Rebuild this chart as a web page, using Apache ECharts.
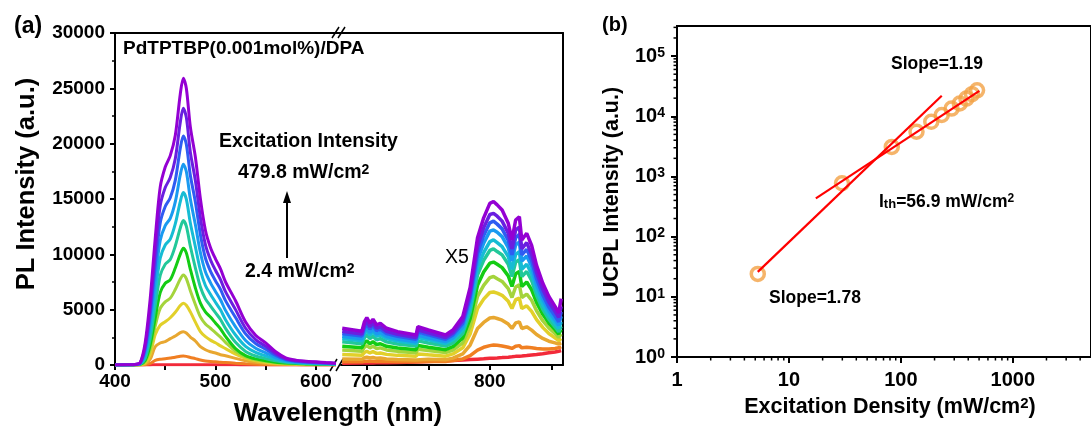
<!DOCTYPE html>
<html><head><meta charset="utf-8">
<script src="https://cdn.jsdelivr.net/npm/echarts@6/dist/echarts.min.js"></script>
<style>html,body{margin:0;padding:0;background:#fff}#c{width:1091px;height:434px}</style>
</head><body><div id="c"></div>
<script>
// ---------- Panel (a): visible region (400-620 nm) ----------
const blueWl = [400,415,420,425,430,435,440,445,450,455,460,465,468,471,475,480,485,490,495,500,505,510,520,530,540,550,560,570,580,590,600,610,620];
const blue0  = [0,0,0,0,5,10,15,20,22,23,24,24,24,24,23,22,20,18,17,16,15,14,12,10,9,8,7,6,5,5,5,5,5];
const blue1  = [0,0,0,2,25,140,420,520,560,630,700,785,810,780,680,580,450,370,320,290,250,225,160,105,65,40,25,18,12,10,8,7,5];
const blue2  = [0,0,0,9,90,510,1650,1990,2110,2380,2620,2920,3010,2890,2530,2170,1660,1380,1200,1080,930,840,600,390,240,150,90,60,45,30,30,24,18];
const blue3  = [0,0,0,21,185,950,2730,3590,3910,4270,4770,5370,5580,5400,4800,3880,3020,2560,2250,2010,1730,1480,980,610,385,247,154,106,78,55,50,40,31];
const blue4  = [0,0,0,37,295,1385,3500,5110,5700,6040,6820,7770,8140,7810,6710,5470,4350,3710,3320,2930,2520,2050,1240,730,470,316,205,143,103,78,65,52,42];
const blue5  = [0,0,11,53,400,1790,4220,6540,7385,7700,8760,10020,10550,10130,8650,6960,5590,4800,4330,3800,3270,2580,1480,845,550,380,253,180,127,100,79,63,53];
const blue6  = [0,3,16,73,598,2375,5324,8091,9109,9527,10753,12384,13050,12541,10727,8783,7047,5977,5351,4724,4111,3315,2049,1227,814,577,371,243,170,134,107,85,69];
const blue7  = [0,6,22,97,835,3023,6481,9660,10844,11373,12744,14770,15580,14988,12838,10688,8569,7182,6388,5671,4986,4098,2711,1683,1134,816,511,315,218,173,139,109,87];
const blue8  = [0,11,29,123,1114,3739,7696,11253,12596,13250,14738,17188,18150,17478,14992,12687,10164,8422,7442,6643,5899,4937,3449,2214,1510,1100,675,396,272,216,174,136,107];
const blue9  = [0,17,37,153,1432,4513,8942,12834,14324,15111,16684,19582,20700,19955,17140,14738,11799,9667,8487,7618,6831,5817,4285,2815,1938,1424,861,484,331,263,213,166,128];
const blue10 = [0,21,44,179,1696,5197,10115,14384,16031,16936,18630,21936,23200,22376,19233,16669,13340,10869,9512,8561,7714,6624,5002,3318,2292,1691,1016,561,383,304,248,193,146];
const blue11 = [0,26,52,207,1996,5962,11405,16070,17885,18922,20736,24494,25920,25013,21514,18792,15034,12182,10627,9590,8683,7517,5806,3888,2696,1996,1192,648,441,350,285,220,168];

// ---------- Panel (a): NIR region (x5 already applied) ----------
const nirWl = [680,696,698,700,702.5,705,708,711,716,725,740,741.5,750,764,770,778,784,790,795,800,803,806,810,815,818,821,824,826,830,834,838,843,848,853,856,858];
const nir0  = [150,170,175,180,185,190,195,200,210,230,280,290,320,380,410,450,490,530,560,600,620,640,670,710,740,780,800,810,850,900,950,1020,1100,1180,1240,1300];
const nir1  = [300,290,330,350,330,345,320,330,310,300,290,330,320,320,400,550,850,1350,1600,1750,1800,1780,1720,1600,1500,1700,1750,1550,1600,1550,1500,1450,1450,1500,1550,1650];
const nir2  = [550,510,650,710,630,690,600,630,550,500,460,570,530,480,620,1000,1800,3300,3850,4250,4300,4200,4050,3700,3300,3800,3900,3300,3450,3150,2750,2400,2150,2000,1900,2000];
const nir3  = [950,880,1130,1240,1090,1200,1050,1090,960,870,790,1000,920,800,1000,1550,2800,5100,5950,6550,6600,6500,6300,5750,5100,5900,6050,5100,5350,4850,4100,3400,2850,2450,2200,2400];
const nir4  = [1350,1250,1600,1750,1550,1690,1480,1550,1360,1230,1110,1420,1300,1120,1350,2000,3500,6200,7200,7900,8000,7800,7550,6900,6100,7050,7250,6100,6400,5850,4900,4000,3350,2850,2500,2800];
const nir5  = [1700,1560,1990,2180,1920,2110,1850,1920,1690,1540,1380,1760,1610,1380,1650,2450,4200,7200,8400,9200,9300,9100,8800,8050,7100,8250,8450,7100,7500,6800,5650,4600,3800,3200,2800,3200];
const nir6  = [2100,1920,2460,2700,2380,2600,2280,2380,2090,1900,1710,2180,1990,1710,2000,2850,4800,8150,9450,10350,10500,10250,9950,9100,8000,9300,9500,8000,8450,7650,6300,5050,4150,3450,3000,3500];
const nir7  = [2400,2200,2810,3080,2710,2970,2610,2710,2390,2170,1950,2490,2280,1950,2280,3180,5200,8800,10150,11150,11300,11050,10700,9800,8650,10000,10250,8650,9100,8250,6750,5450,4500,3750,3300,3900];
const nir8  = [2600,2380,3040,3340,2940,3220,2820,2940,2590,2350,2110,2700,2460,2110,2460,3450,5700,9500,11000,12100,12200,12000,11600,10600,9400,10850,11100,9400,9850,8900,7300,5950,4900,4100,3600,4400];
const nir9  = [2850,2620,3350,3680,3240,3550,3110,3240,2850,2590,2330,2980,2720,2330,2720,3760,6100,10100,11700,12850,13000,12730,12300,11250,9950,11500,11800,9950,10450,9450,7800,6350,5250,4450,3900,4800];
const nir10 = [3050,2810,3590,3940,3470,3800,3330,3470,3050,2770,2490,3180,2910,2490,2910,4020,6500,10700,12400,13600,13700,13450,13000,11900,10500,12200,12450,10500,11050,10000,8350,6850,5700,4850,4300,5300];
const nir11 = [3320,3050,3900,4280,3770,4130,3620,3770,3320,3010,2710,3460,3160,2710,3160,4370,7000,11500,13300,14600,14770,14470,14000,12800,11300,13100,13400,11300,11900,10800,9000,7400,6200,5300,4700,6000];

const curveColors = ['#f22a3a','#f07f22','#e8a730','#e2d02a','#a4d43c','#14cc14','#22c89a','#16bcd4','#1a9af0','#2f5cf2','#6a1fe0','#9400d3'];

// ---------- Panel (b) ----------
const excDensity = [5.27, 29.8, 83, 138, 187, 232, 284, 336, 385, 432, 479.8];
const ucpl       = [24, 770, 3100, 5550, 8100, 10500, 13400, 16300, 19700, 23300, 27000];
const fitLowX  = [5.27, 232];
const fitLowY  = [26, 21900];
const fitHighX = [17.4, 503];
const fitHighY = [433, 26500];

const xTicksA1 = [400, 450, 500, 550, 600];
const xLabelsA1 = [400, 500, 600];
const xTicksA2 = [700, 750, 800, 850];
const xLabelsA2 = [700, 800];

const FONT = "'Liberation Sans', Arial, sans-serif";
const blueCurves = [blue0,blue1,blue2,blue3,blue4,blue5,blue6,blue7,blue8,blue9,blue10,blue11];
const nirCurves = [nir0,nir1,nir2,nir3,nir4,nir5,nir6,nir7,nir8,nir9,nir10,nir11];

const chart = echarts.init(document.getElementById('c'), null, {renderer: 'canvas'});

const lbl = (size, extra) => Object.assign({color:'#000', fontFamily: FONT, fontWeight:'bold', fontSize:size, formatter: (v) => String(v)}, extra || {});
const lineAxis = {lineStyle:{color:'#000', width:2}, onZero:false};

const series = [];
blueCurves.forEach((arr, i) => {
  series.push({type:'line', xAxisIndex:0, yAxisIndex:0, showSymbol:false, smooth:0.3, clip:true,
    data: blueWl.map((w, j) => [w, arr[j]]),
    lineStyle:{width:3, color: curveColors[i]}, z: 2 + i});
});
nirCurves.forEach((arr, i) => {
  series.push({type:'line', xAxisIndex:2, yAxisIndex:1, showSymbol:false, smooth:false, clip:true,
    data: nirWl.map((w, j) => [w, arr[j]]),
    lineStyle:{width:3.5, color: curveColors[i]}, z: 2 + i});
});
series.push({type:'scatter', xAxisIndex:4, yAxisIndex:2, symbol:'circle', symbolSize:13,
  data: excDensity.map((x, i) => [x, ucpl[i]]),
  itemStyle:{color:'rgba(0,0,0,0)', borderColor:'#f3a145', borderWidth:3.5}, z: 3});
series.push({type:'line', xAxisIndex:4, yAxisIndex:2, showSymbol:false,
  data: fitLowX.map((x, i) => [x, fitLowY[i]]), lineStyle:{color:'#ff0000', width:2.2}, z: 5});
series.push({type:'line', xAxisIndex:4, yAxisIndex:2, showSymbol:false,
  data: fitHighX.map((x, i) => [x, fitHighY[i]]), lineStyle:{color:'#ff0000', width:2.2}, z: 5});

// log-style minor ticks for panel (b)
const minorTickData = [];
for (let k = 0; k < 4; k++) for (let m = 2; m <= 9; m++) { const v = m * Math.pow(10, k); if (v < 5000) minorTickData.push([v, 1, 0]); }
for (let k = 0; k < 6; k++) for (let m = 2; m <= 9; m++) { const v = m * Math.pow(10, k); if (v < 316000) minorTickData.push([1, v, 1]); }
series.push({type:'custom', xAxisIndex:4, yAxisIndex:2, clip:false, silent:true,
  encode:{x:0, y:1}, data: minorTickData,
  renderItem: (params, api) => {
    const kind = api.value(2);
    if (kind === 0) {
      const p = api.coord([api.value(0), 1]);
      return {type:'line', shape:{x1:p[0], y1:p[1], x2:p[0], y2:p[1] + 3.5}, style:{stroke:'#000', lineWidth:1.5}};
    }
    const p = api.coord([1, api.value(1)]);
    return {type:'line', shape:{x1:p[0] - 3.5, y1:p[1], x2:p[0], y2:p[1]}, style:{stroke:'#000', lineWidth:1.5}};
  }});

const T = (text, x, y, size, opts) => Object.assign({type:'text', x, y, silent:true,
  style: Object.assign({text, fill:'#000', fontFamily:FONT, fontWeight:'bold', fontSize:size, align:'left', verticalAlign:'middle'}, (opts && opts.style) || {})},
  opts && opts.rotation !== undefined ? {rotation: opts.rotation} : {});

const supRich = (base) => ({
  s: {fontSize: Math.round(base * 0.7), fontWeight:'bold', fontFamily:FONT, verticalAlign:'top', fill:'#000', color:'#000'},
  b: {fontSize: base, fontWeight:'bold', fontFamily:FONT, fill:'#000', color:'#000'},
  u: {fontSize: Math.round(base * 0.72), fontWeight:'bold', fontFamily:FONT, verticalAlign:'bottom', fill:'#000', color:'#000'}
});

const option = {
  animation:false,
  backgroundColor:'#fff',
  grid:[
    {left:115, top:33, width:220, height:332},
    {left:341, top:33, width:222, height:332},
    {left:677, top:26, width:422, height:331, show:true, borderColor:'#000', borderWidth:2, backgroundColor:'transparent'}
  ],
  xAxis:[
    {gridIndex:0, type:'value', min:400, max:619, interval:50, axisLine:lineAxis,
      axisTick:{show:true, inside:false, length:5, customValues:xTicksA1, lineStyle:{color:'#000', width:2}},
      axisLabel:lbl(19, {margin:7, customValues:xLabelsA1}), splitLine:{show:false}},
    {gridIndex:0, type:'value', position:'top', min:400, max:619, axisLine:lineAxis, axisTick:{show:false}, axisLabel:{show:false}, splitLine:{show:false}},
    {gridIndex:1, type:'value', min:679, max:859.5, axisLine:lineAxis,
      axisTick:{show:true, inside:false, length:5, customValues:xTicksA2, lineStyle:{color:'#000', width:2}},
      axisLabel:lbl(19, {margin:7, customValues:xLabelsA2}), splitLine:{show:false}},
    {gridIndex:1, type:'value', position:'top', min:679, max:859.5, axisLine:lineAxis, axisTick:{show:false}, axisLabel:{show:false}, splitLine:{show:false}},
    {gridIndex:2, type:'log', logBase:10, min:1, max:5000, axisLine:lineAxis,
      axisTick:{show:true, inside:false, length:6, lineStyle:{color:'#000', width:2}},
      axisLabel:lbl(20, {margin:13, showMaxLabel:false}), splitLine:{show:false}, minorTick:{show:false}}
  ],
  yAxis:[
    {gridIndex:0, type:'value', min:0, max:30000, interval:5000, axisLine:lineAxis,
      axisTick:{show:true, inside:false, length:5, lineStyle:{color:'#000', width:2}},
      minorTick:{show:true, splitNumber:2, length:3, lineStyle:{color:'#000', width:1.5}},
      axisLabel:lbl(19, {margin:10}), splitLine:{show:false}},
    {gridIndex:1, type:'value', position:'right', min:0, max:30000, axisLine:lineAxis, axisTick:{show:false}, axisLabel:{show:false}, splitLine:{show:false}},
    {gridIndex:2, type:'log', logBase:10, min:1, max:316228, axisLine:lineAxis,
      axisTick:{show:true, inside:false, length:6, lineStyle:{color:'#000', width:2}},
      axisLabel:{showMaxLabel:false, margin:12, color:'#000',
        formatter: (v) => '{b|10}{s|' + Math.round(Math.log10(v)) + '}',
        rich: supRich(20)},
      splitLine:{show:false}, minorTick:{show:false}}
  ],
  series,
  graphic:[
    {type:'line', silent:true, shape:{x1:334, y1:33, x2:342, y2:33}, style:{stroke:'#000', lineWidth:2}},
    {type:'line', silent:true, shape:{x1:332, y1:38, x2:339, y2:27}, style:{stroke:'#000', lineWidth:1.5}},
    {type:'line', silent:true, shape:{x1:338, y1:38, x2:345, y2:27}, style:{stroke:'#000', lineWidth:1.5}},
    {type:'line', silent:true, shape:{x1:330, y1:371, x2:337, y2:359}, style:{stroke:'#000', lineWidth:1.5}},
    {type:'line', silent:true, shape:{x1:336, y1:371, x2:343, y2:359}, style:{stroke:'#000', lineWidth:1.5}},
    {type:'line', silent:true, shape:{x1:287, y1:258, x2:287, y2:200}, style:{stroke:'#000', lineWidth:2}},
    {type:'polygon', silent:true, shape:{points:[[287,191],[283,203],[291,203]]}, style:{fill:'#000'}},
    T('(a)', 14, 27, 23),
    T('(b)', 602, 25, 20),
    T('PdTPTBP(0.001mol%)/DPA', 123, 49, 19),
    T('Excitation Intensity', 219, 142, 19.5),
    T('{b|479.8 mW/cm}{s|2}', 238, 173, 19.5, {style:{rich: supRich(19.5)}}),
    T('{b|2.4 mW/cm}{s|2}', 245, 272, 19.5, {style:{rich: supRich(19.5)}}),
    T('X5', 445, 258, 19.5, {style:{fontWeight:'normal'}}),
    T('PL Intensity (a.u.)', 27, 184, 25.5, {rotation: Math.PI / 2, style:{align:'center'}}),
    T('Wavelength (nm)', 338, 414, 26, {style:{align:'center'}}),
    T('Slope=1.19', 891, 64, 17.5),
    T('{b|I}{u|th}{b|=56.9 mW/cm}{s|2}', 879, 202, 17.5, {style:{rich: supRich(17.5)}}),
    T('Slope=1.78', 769, 298, 17.5),
    T('UCPL Intensity (a.u.)', 612, 192, 21.5, {rotation: Math.PI / 2, style:{align:'center'}}),
    T('{b|Excitation Density (mW/cm}{s|2}{b|)}', 890, 407, 21.5, {style:{align:'center', rich: supRich(21.5)}})
  ]
};
chart.setOption(option);
</script>
</body></html>
